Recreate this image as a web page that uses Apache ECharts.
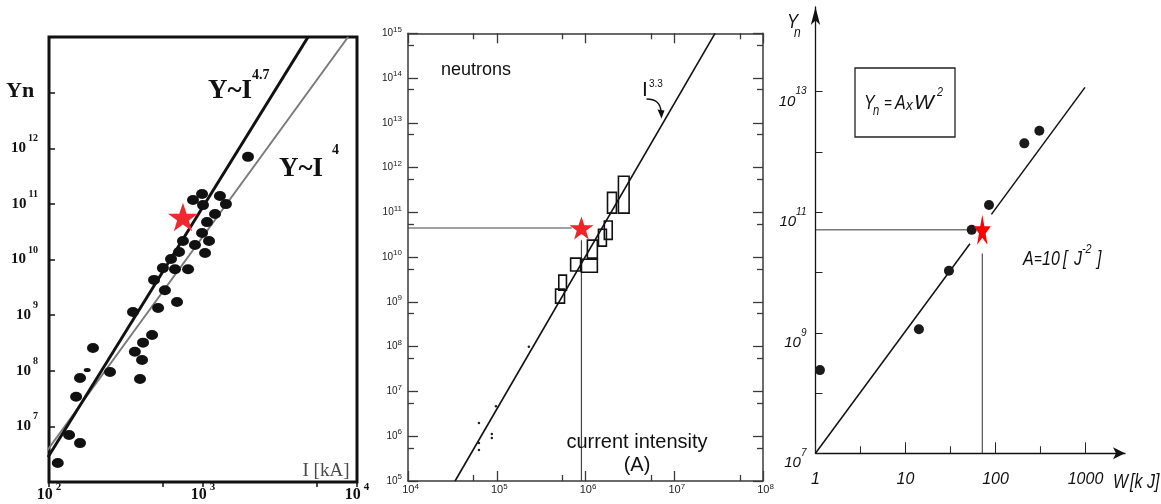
<!DOCTYPE html>
<html><head><meta charset="utf-8">
<script src="https://cdn.jsdelivr.net/npm/echarts@6/dist/echarts.min.js"></script>
<style>html,body{margin:0;padding:0;background:#fff}#c{width:1161px;height:504px}</style>
</head><body><div id="c"></div>
<script>
// ---------------- Panel 1 : Yn vs I [kA] ----------------
const p1XRange = [100, 10000];
const p1YRange = [1e6, 1e14];
const p1YLabelExp = [7, 8, 9, 10, 11, 12];
const p1Current = [1960, 861, 986, 1288, 1000, 1409, 1197, 1062, 986, 1094, 741, 887, 1031, 699, 620, 549, 658, 800, 481, 566, 678, 511, 351, 467, 408, 361, 402, 390, 249, 193, 159, 150, 135, 159, 114];
const p1Yield   = [7.0e11, 1.17e11, 1.5e11, 1.39e11, 9.5e10, 9.9e10, 6.6e10, 4.7e10, 3.0e10, 2.15e10, 2.15e10, 1.82e10, 1.31e10, 1.36e10, 1.02e10, 7.0e9, 6.7e9, 6.7e9, 4.3e9, 2.8e9, 1.72e9, 1.34e9, 1.14e9, 4.4e8, 3.2e8, 2.2e8, 1.56e8, 7.1e7, 9.5e7, 2.57e8, 7.4e7, 3.4e7, 7.0e6, 5.0e6, 2.2e6];
const p1SmallDot = [[177, 1.03e8]];
const p1FitI47 = [[98.6, 2.81e6], [4810, 1e14]];
const p1FitI4  = [[95.7, 3.46e6], [8750, 1e14]];
const p1Star = [[741, 5.8e10]];

// ---------------- Panel 2 : neutrons vs current (A) ----------------
const p2XRange = [1e4, 1e8];
const p2YRange = [1e5, 1e15];
const p2BoxCurMin = [4.6e5, 5.0e5, 6.8e5, 9.0e5, 1.05e6, 1.4e6, 1.63e6, 1.77e6, 2.35e6];
const p2BoxCurMax = [5.8e5, 6.1e5, 8.8e5, 1.36e6, 1.36e6, 1.72e6, 2.0e6, 2.23e6, 3.1e6];
const p2BoxYMin   = [9.4e8, 1.83e9, 4.9e9, 4.6e9, 9.5e9, 1.76e10, 2.5e10, 9.6e10, 9.6e10];
const p2BoxYMax   = [1.93e9, 3.96e9, 9.5e9, 9.0e9, 2.4e10, 4.2e10, 6.4e10, 2.8e11, 6.4e11];
const p2SmallCur = [6.3e4, 6.3e4, 6.3e4, 8.8e4, 8.8e4, 9.8e4, 2.3e5];
const p2SmallY   = [1.98e6, 7.1e5, 4.9e5, 1.12e6, 9.1e5, 4.7e6, 1e8];
const p2Fit = [[3.39e4, 1e5], [2.88e7, 1e15]];
const p2Star = [[9.0e5, 4.48e10]];
const p2RefH = [[1e4, 4.48e10], [7.0e5, 4.48e10]];
const p2RefV = [[9.0e5, 2.4e10], [9.0e5, 1e5]];

// ---------------- Panel 3 : Yn vs W [kJ] ----------------
const p3XRange = [1, 1000];
const p3YRange = [1e7, 1e13];
const p3YLabelExp = [7, 9, 11, 13];
const p3MinorX = [3.16, 31.6, 316];
const p3Energy = [1.12, 14.1, 30.4, 54.4, 84.7, 209, 307];
const p3Yield  = [2.4e8, 1.14e9, 1.07e10, 5.1e10, 1.32e11, 1.39e12, 2.25e12];
const p3FitA = [[1, 1e7], [52, 3.0e10]];
const p3FitB = [[90, 9.2e10], [987, 1.18e13]];
const p3Star = [[71.3, 5.1e10]];
const p3RefH = [[1, 5.1e10], [52, 5.1e10]];
const p3RefV = [[71.3, 2.07e10], [71.3, 1e7]];

// ---------------- styling helpers ----------------
const STAR = 'path://M50,0L61.8,35.1L98.1,35.1L68.8,56.8L79.4,91.5L50,70L20.6,91.5L31.2,56.8L1.9,35.1L38.2,35.1Z';
const SERIF = '"Liberation Serif","DejaVu Serif",serif';
const SANS = '"Liberation Sans",Arial,"DejaVu Sans",sans-serif';
const NARROW = '"Liberation Sans Narrow","Liberation Sans",sans-serif';
const exp10 = v => Math.round(Math.log10(v));
const off = {show: false};

const p2Line = {show: true, onZero: false, lineStyle: {color: '#3a3a3a', width: 1.5}};
const p2Tick = {show: true, inside: true, length: 10, lineStyle: {color: '#3a3a3a', width: 1.3}};
const p2Minor = {show: true, splitNumber: 2, length: 6, lineStyle: {color: '#3a3a3a', width: 1.3}};
const p2XRich = {b: {fontFamily: SANS, fontSize: 11, lineHeight: 14, color: '#222'},
                 s: {fontFamily: SANS, fontSize: 8, lineHeight: 8, verticalAlign: 'top', color: '#222'}};
const p2YRich = {b: {fontFamily: SANS, fontSize: 10, lineHeight: 16, color: '#222'},
                 s: {fontFamily: SANS, fontSize: 8, lineHeight: 8, verticalAlign: 'top', color: '#222'}};

function txt(x, y, text, o, sx) {
  const st = Object.assign({text: text, fill: '#111', fontFamily: SANS, fontSize: 14,
    align: 'left', textAlign: 'left', verticalAlign: 'middle', textVerticalAlign: 'middle'}, o || {});
  if (o && o.align) st.textAlign = o.align;
  const el = {type: 'text', x: x, y: y, z: 100, style: st};
  if (sx) el.scaleX = sx;
  return el;
}
const it = (size) => ({fontFamily: NARROW, fontStyle: 'italic', fontSize: size});

const option = {
  animation: false,
  backgroundColor: '#fff',
  grid: [
    {left: 49, top: 37, width: 308, height: 445, show: true, borderColor: '#111', borderWidth: 3, backgroundColor: 'rgba(0,0,0,0)', containLabel: false, outerBoundsMode: 'none'},
    {left: 408, top: 33.3, width: 355, height: 447.7, containLabel: false, outerBoundsMode: 'none'},
    {left: 815.5, top: 91.7, width: 270, height: 361.6, containLabel: false, outerBoundsMode: 'none'},
    {left: 815.5, top: 7, width: 309.5, height: 446.3, containLabel: false, outerBoundsMode: 'none'}
  ],
  xAxis: [
    {gridIndex: 0, type: 'log', logBase: 10, min: p1XRange[0], max: p1XRange[1], position: 'bottom',
     axisLine: off, splitLine: off, minorSplitLine: off,
     axisTick: {show: true, inside: false, length: 5, lineStyle: {color: '#111', width: 1.5}},
     minorTick: {show: true, splitNumber: 2, length: 5, lineStyle: {color: '#111', width: 1.5}},
     axisLabel: {margin: 0, formatter: v => '{b|10}{s|' + exp10(v) + '}',
       rich: {b: {fontFamily: SERIF, fontWeight: 'bold', fontSize: 16, lineHeight: 26, color: '#111'},
              s: {fontFamily: SERIF, fontWeight: 'bold', fontSize: 11, lineHeight: 10, verticalAlign: 'top', padding: [0, 0, 0, 3], color: '#111'}}}},
    {gridIndex: 1, type: 'log', logBase: 10, min: p2XRange[0], max: p2XRange[1], position: 'bottom',
     axisLine: p2Line, axisTick: p2Tick, minorTick: p2Minor, splitLine: off, minorSplitLine: off,
     axisLabel: {margin: 2, padding: [0, 0, 0, 5], formatter: v => '{b|10}{s|' + exp10(v) + '}', rich: p2XRich}},
    {gridIndex: 1, type: 'log', logBase: 10, min: p2XRange[0], max: p2XRange[1], position: 'top',
     axisLine: p2Line, axisTick: p2Tick, minorTick: p2Minor, splitLine: off, minorSplitLine: off, axisLabel: off},
    {gridIndex: 2, type: 'log', logBase: 10, min: p3XRange[0], max: p3XRange[1], position: 'bottom',
     axisLine: off, splitLine: off,
     axisTick: {show: true, inside: true, length: 11, lineStyle: {color: '#222', width: 1}},
     axisLabel: {margin: 18, formatter: v => String(Math.round(v)),
       fontFamily: NARROW, fontStyle: 'italic', fontSize: 16, color: '#111'}},
    {gridIndex: 3, type: 'value', min: 0, max: 1, position: 'bottom',
     axisLine: {show: true, onZero: false, symbol: ['none', 'arrow'], symbolSize: [9, 12], lineStyle: {color: '#111', width: 1.3}},
     axisTick: off, axisLabel: off, splitLine: off}
  ],
  yAxis: [
    {gridIndex: 0, type: 'log', logBase: 10, min: p1YRange[0], max: p1YRange[1], position: 'left',
     axisLine: off, splitLine: off,
     axisTick: {show: true, inside: true, length: 6, lineStyle: {color: '#111', width: 1.5}},
     axisLabel: {margin: 11, formatter: v => { const e = exp10(v); return p1YLabelExp.includes(e) ? '{b|10}{s|' + e + '}' : ''; },
       rich: {b: {fontFamily: SERIF, fontWeight: 'bold', fontSize: 15, lineHeight: 29, color: '#111'},
              s: {fontFamily: SERIF, fontWeight: 'bold', fontSize: 10, lineHeight: 10, verticalAlign: 'top', padding: [0, 0, 0, 2], color: '#111'}}}},
    {gridIndex: 1, type: 'log', logBase: 10, min: p2YRange[0], max: p2YRange[1], position: 'left',
     axisLine: p2Line, axisTick: p2Tick, minorTick: p2Minor, splitLine: off, minorSplitLine: off,
     axisLabel: {margin: 6, formatter: v => '{b|10}{s|' + exp10(v) + '}', rich: p2YRich}},
    {gridIndex: 1, type: 'log', logBase: 10, min: p2YRange[0], max: p2YRange[1], position: 'right',
     axisLine: p2Line, axisTick: p2Tick, minorTick: p2Minor, splitLine: off, minorSplitLine: off, axisLabel: off},
    {gridIndex: 2, type: 'log', logBase: 10, min: p3YRange[0], max: p3YRange[1], position: 'left',
     axisLine: off, splitLine: off,
     axisTick: {show: true, inside: true, length: 7, lineStyle: {color: '#222', width: 1}},
     axisLabel: {margin: 9, padding: [20, 0, 0, 0], formatter: v => { const e = exp10(v); return p3YLabelExp.includes(e) ? '{b|10}{s|' + e + '}' : ''; },
       rich: {b: {fontFamily: NARROW, fontStyle: 'italic', fontSize: 15, lineHeight: 30, color: '#111'},
              s: {fontFamily: NARROW, fontStyle: 'italic', fontSize: 10, lineHeight: 10, verticalAlign: 'top', color: '#111'}}}},
    {gridIndex: 3, type: 'value', min: 0, max: 1, position: 'left',
     axisLine: {show: true, onZero: false, symbol: ['none', 'arrow'], symbolSize: [7, 18], lineStyle: {color: '#111', width: 1.3}},
     axisTick: off, axisLabel: off, splitLine: off}
  ],
  series: [
    // ---- panel 1
    {type: 'line', xAxisIndex: 0, yAxisIndex: 0, data: p1FitI4, symbol: 'none', z: 2,
     lineStyle: {color: '#7a7a7a', width: 2}},
    {type: 'line', xAxisIndex: 0, yAxisIndex: 0, data: p1FitI47, symbol: 'none', z: 2,
     lineStyle: {color: '#111', width: 3}},
    {type: 'scatter', xAxisIndex: 0, yAxisIndex: 0, z: 3, symbol: 'circle', symbolSize: [12, 10],
     itemStyle: {color: '#111', opacity: 1}, data: p1Current.map((x, i) => [x, p1Yield[i]])},
    {type: 'scatter', xAxisIndex: 0, yAxisIndex: 0, z: 3, symbol: 'circle', symbolSize: [7, 4],
     itemStyle: {color: '#111', opacity: 1}, data: p1SmallDot},
    {type: 'scatter', xAxisIndex: 0, yAxisIndex: 0, z: 5, symbol: STAR, symbolKeepAspect: true, symbolSize: 30,
     itemStyle: {color: '#ee2a30', opacity: 1}, data: p1Star},
    // ---- panel 2
    {type: 'line', xAxisIndex: 1, yAxisIndex: 1, data: p2Fit, symbol: 'none', z: 2,
     lineStyle: {color: '#111', width: 1.6}},
    {type: 'line', xAxisIndex: 1, yAxisIndex: 1, data: p2RefH, symbol: 'none', z: 2,
     lineStyle: {color: '#444', width: 1.2}},
    {type: 'line', xAxisIndex: 1, yAxisIndex: 1, data: p2RefV, symbol: 'none', z: 2,
     lineStyle: {color: '#444', width: 1.2}},
    {type: 'custom', xAxisIndex: 1, yAxisIndex: 1, z: 3,
     data: p2BoxCurMin.map((v, i) => [v, p2BoxCurMax[i], p2BoxYMin[i], p2BoxYMax[i]]),
     encode: {x: [0, 1], y: [2, 3]},
     renderItem: (params, api) => {
       const a = api.coord([api.value(0), api.value(3)]);
       const b = api.coord([api.value(1), api.value(2)]);
       return {type: 'rect', shape: {x: a[0], y: a[1], width: b[0] - a[0], height: b[1] - a[1]},
               style: {fill: 'rgba(0,0,0,0)', stroke: '#111', lineWidth: 1.6}};
     }},
    {type: 'scatter', xAxisIndex: 1, yAxisIndex: 1, z: 3, symbol: 'circle', symbolSize: 2.5,
     itemStyle: {color: '#222', opacity: 1}, data: p2SmallCur.map((x, i) => [x, p2SmallY[i]])},
    {type: 'scatter', xAxisIndex: 1, yAxisIndex: 1, z: 5, symbol: STAR, symbolKeepAspect: true, symbolSize: 24,
     itemStyle: {color: '#f0252b', opacity: 1}, data: p2Star},
    // ---- panel 3
    {type: 'custom', xAxisIndex: 3, yAxisIndex: 3, z: 3, data: p3MinorX.map(v => [v, p3YRange[0]]),
     renderItem: (params, api) => {
       const p = api.coord([api.value(0), p3YRange[0]]);
       return {type: 'line', shape: {x1: p[0], y1: p[1], x2: p[0], y2: p[1] - 7}, style: {stroke: '#222', lineWidth: 1}};
     }},
    {type: 'line', xAxisIndex: 3, yAxisIndex: 3, data: p3FitA, symbol: 'none', z: 2, clip: false,
     lineStyle: {color: '#111', width: 1.5}},
    {type: 'line', xAxisIndex: 3, yAxisIndex: 3, data: p3FitB, symbol: 'none', z: 2, clip: false,
     lineStyle: {color: '#111', width: 1.5}},
    {type: 'line', xAxisIndex: 3, yAxisIndex: 3, data: p3RefH, symbol: 'none', z: 2,
     lineStyle: {color: '#333', width: 1}},
    {type: 'line', xAxisIndex: 3, yAxisIndex: 3, data: p3RefV, symbol: 'none', z: 2,
     lineStyle: {color: '#333', width: 1}},
    {type: 'scatter', xAxisIndex: 3, yAxisIndex: 3, z: 3, symbol: 'circle', symbolSize: 10,
     itemStyle: {color: '#1a1a1a', opacity: 1}, data: p3Energy.map((x, i) => [x, p3Yield[i]])},
    {type: 'scatter', xAxisIndex: 3, yAxisIndex: 3, z: 5, symbol: STAR, symbolKeepAspect: false, symbolSize: [17, 30],
     itemStyle: {color: '#ff0000', opacity: 1}, data: p3Star}
  ],
  graphic: [
    // panel 1 annotations
    txt(6, 91, 'Yn', {fontFamily: SERIF, fontWeight: 'bold', fontSize: 22}),
    txt(230, 91, 'Y~I', {fontFamily: SERIF, fontWeight: 'bold', fontSize: 27, align: 'center'}),
    txt(252, 75, '4.7', {fontFamily: SERIF, fontWeight: 'bold', fontSize: 14}),
    txt(301, 169, 'Y~I', {fontFamily: SERIF, fontWeight: 'bold', fontSize: 27, align: 'center'}),
    txt(332, 150, '4', {fontFamily: SERIF, fontWeight: 'bold', fontSize: 14}),
    txt(326, 471, 'I [kA]', {fontFamily: SERIF, fontSize: 19, fill: '#4a4a4a', align: 'center'}),
    // panel 2 annotations
    txt(441, 70, 'neutrons', {fontSize: 18}),
    txt(642, 90, 'I', {fontSize: 21}),
    txt(649, 84, '3.3', {fontSize: 10}),
    {type: 'bezierCurve', z: 100, shape: {x1: 646.5, y1: 99, cpx1: 660, cpy1: 99, x2: 661, y2: 111}, style: {stroke: '#111', lineWidth: 1.3, fill: null}},
    {type: 'polygon', z: 100, shape: {points: [[657.5, 109.5], [664.5, 110.5], [661.5, 118.5]]}, style: {fill: '#111'}},
    txt(637, 442, 'current intensity', {fontSize: 20, align: 'center'}),
    txt(637, 465, '(A)', {fontSize: 20, align: 'center'}),
    // panel 3 annotations
    txt(787, 22, 'Y', it(21), 0.8),
    txt(794, 33, 'n', it(15), 0.8),
    {type: 'rect', z: 100, shape: {x: 855, y: 68, width: 100, height: 69}, style: {stroke: '#222', lineWidth: 1.3, fill: 'rgba(0,0,0,0)'}},
    txt(864, 103, 'Y', it(20), 0.8),
    txt(873, 111, 'n', it(14), 0.8),
    txt(884, 104, '=', it(15), 0.9),
    txt(895, 103, 'A', it(20), 0.8),
    txt(906, 106, 'x', it(15), 0.9),
    txt(914, 103, 'W', it(20), 1.05),
    txt(937, 93, '2', it(12), 0.9),
    txt(1023, 259, 'A', it(20), 0.8),
    txt(1034, 260, '=', it(15), 0.9),
    txt(1042, 259, '10', it(20), 0.8),
    txt(1063, 259, '[', it(20), 0.8),
    txt(1074, 259, 'J', it(20), 0.8),
    txt(1082, 250, '-2', it(12), 0.9),
    txt(1097, 259, ']', it(20), 0.8),
    txt(1113, 482, 'W', it(20), 0.8),
    txt(1130, 482, '[k J]', it(20), 0.8)
  ]
};

const chart = echarts.init(document.getElementById('c'), null, {renderer: 'canvas'});
chart.setOption(option);
</script>
</body></html>
